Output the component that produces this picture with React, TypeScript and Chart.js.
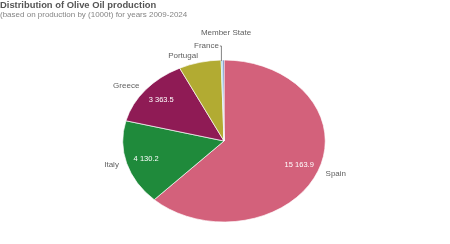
import React, { useEffect, useRef } from "react";
import { Chart, registerables } from "chart.js";

Chart.register(...registerables);

const categories = ["Spain", "Italy", "Greece", "Portugal", "France", "Member State"];
const production = [15163.9, 4130.2, 3363.5, 1650, 60, 50];
const sliceColors = ["#d3617b", "#1f8a3b", "#8f1b55", "#b2ab32", "#5fc0e0", "#2f5ca8"];
const titleText = "Distribution of Olive Oil production";
const subtitleText = "(based on production by (1000t) for years 2009-2024";

const SX = 1.25;
const FONT = "'Liberation Sans', Arial, sans-serif";

function fmt(v: number): string {
  const [i, d] = v.toFixed(1).split(".");
  return i.replace(/\B(?=(\d{3})+(?!\d))/g, " ") + "." + d;
}

const stretchPlugin = {
  id: "stretch",
  beforeDatasetsDraw(chart: any) {
    const arc = chart.getDatasetMeta(0).data[0];
    const ctx = chart.ctx;
    ctx.save();
    ctx.translate(arc.x, arc.y);
    ctx.scale(SX, 1);
    ctx.translate(-arc.x, -arc.y);
  },
  afterDatasetsDraw(chart: any) {
    const ctx = chart.ctx;
    ctx.restore();
    const meta = chart.getDatasetMeta(0);
    const total = production.reduce((a, b) => a + b, 0);
    ctx.save();
    ctx.textBaseline = "middle";
    meta.data.forEach((a: any, i: number) => {
      const mid = (a.startAngle + a.endAngle) / 2;
      const r = a.outerRadius;
      const cos = Math.cos(mid);
      const sin = Math.sin(mid);
      if (production[i] / total > 0.1) {
        ctx.fillStyle = "#ffffff";
        ctx.font = `7.5px ${FONT}`;
        ctx.textAlign = "center";
        ctx.fillText(fmt(production[i]), a.x + cos * r * 0.8 * SX, a.y + sin * r * 0.8);
      }
      ctx.fillStyle = "#606060";
      ctx.font = `8px ${FONT}`;
      const name = categories[i];
      if (i === 4) {
        const ex = a.x + cos * r * SX;
        const ey = a.y + sin * r;
        ctx.strokeStyle = "#666666";
        ctx.lineWidth = 0.8;
        ctx.beginPath();
        ctx.moveTo(ex - 0.5, ey + 1);
        ctx.lineTo(ex - 0.5, ey - 14);
        ctx.lineTo(ex - 2, ey - 14);
        ctx.stroke();
        ctx.textAlign = "right";
        ctx.fillText(name, ex - 3, ey - 14.5);
        return;
      }
      if (i === 5) {
        ctx.textAlign = "center";
        ctx.fillText(name, a.x + 2, a.y + sin * r - 27);
        return;
      }
      const lx = a.x + cos * r * 1.08 * SX;
      const ly = a.y + sin * r * 1.08;
      ctx.textAlign = lx >= a.x ? "left" : "right";
      ctx.fillText(name, lx, ly);
    });
    ctx.restore();
  },
};

export default function App() {
  const ref = useRef<HTMLCanvasElement | null>(null);
  useEffect(() => {
    if (!ref.current) return;
    const chart = new Chart(ref.current, {
      type: "pie",
      data: {
        labels: categories,
        datasets: [
          {
            data: production,
            backgroundColor: sliceColors,
            borderColor: "#ffffff",
            borderWidth: 0.6,
            hoverOffset: 0,
            offset: 0,
          },
        ],
      },
      options: {
        animation: false,
        responsive: false,
        maintainAspectRatio: false,
        radius: 81,
        layout: { padding: { left: 0, right: 2, top: 0, bottom: 22 } },
        plugins: {
          legend: { display: false },
          tooltip: { enabled: false },
          title: {
            display: true,
            text: titleText,
            align: "start",
            color: "#555555",
            font: { family: FONT, size: 9.4, weight: "bold", lineHeight: 1 },
            padding: { top: 1, bottom: 0 },
          },
          subtitle: {
            display: true,
            text: subtitleText,
            align: "start",
            color: "#858585",
            font: { family: FONT, size: 8, lineHeight: 1 },
            padding: { top: 0.1, bottom: 41.5 },
          },
        },
      },
      plugins: [stretchPlugin],
    } as any);
    return () => chart.destroy();
  }, []);
  return (
    <div style={{ position: "absolute", left: 0, top: 0, width: 450, height: 244, background: "#fff" }}>
      <canvas ref={ref} width={450} height={244} style={{ width: 450, height: 244 }} />
    </div>
  );
}
